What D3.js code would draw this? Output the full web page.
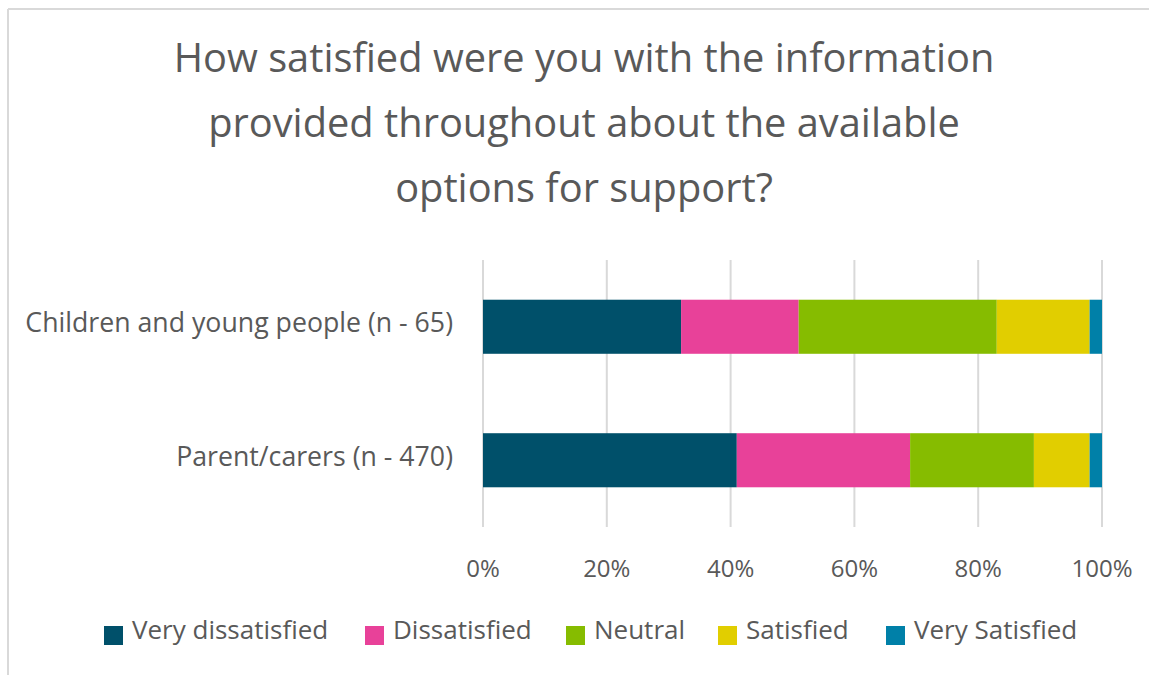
<!DOCTYPE html>
<html>
<head>
<meta charset="utf-8">
<script src="https://cdn.jsdelivr.net/npm/d3@7"></script>
<style>
  html, body { margin: 0; padding: 0; background: #fff; }
  svg { display: block; }
  text { font-family: "Open Sans", "DejaVu Sans", sans-serif; fill: #595959; }
</style>
</head>
<body>
<svg id="chart" width="1149" height="675"></svg>
<script>
// Survey responses, share of each group (percent)
const categories = ["Children and young people (n - 65)", "Parent/carers (n - 470)"];
const seriesNames = ["Very dissatisfied", "Dissatisfied", "Neutral", "Satisfied", "Very Satisfied"];
const childrenValues = [32, 19, 32, 15, 2];
const parentValues = [41, 28, 20, 9, 2];
const tickValues = [0, 20, 40, 60, 80, 100];
const tickLabels = ["0%", "20%", "40%", "60%", "80%", "100%"];
const titleLines = [
  "How satisfied were you with the information",
  "provided throughout about the available",
  "options for support?"
];
const colors = ["#00506A", "#E84199", "#86BC00", "#E1CE00", "#0080A8"];

const rows = categories.map((c, i) => {
  const vals = [childrenValues, parentValues][i];
  const o = { category: c };
  seriesNames.forEach((s, j) => { o[s] = vals[j]; });
  return o;
});
const stacked = d3.stack().keys(seriesNames)(rows);

const svg = d3.select("#chart");

// Frame (top and left edges visible)
svg.append("line").attr("x1", 8).attr("x2", 1149).attr("y1", 9).attr("y2", 9)
  .attr("stroke", "#d9d9d9").attr("stroke-width", 2);
svg.append("line").attr("x1", 8).attr("x2", 8).attr("y1", 9).attr("y2", 675)
  .attr("stroke", "#d9d9d9").attr("stroke-width", 2);

// Title
svg.append("g").selectAll("text").data(titleLines).join("text")
  .attr("x", 584).attr("y", (d, i) => 72 + i * 65)
  .attr("text-anchor", "middle")
  .style("font-size", "39.8px")
  .text(d => d);

const x = d3.scaleLinear().domain([0, 100]).range([483, 1102]);
const y = d3.scaleBand().domain(categories).range([260, 527])
  .paddingInner(0.595).paddingOuter(0.2975);

// Vertical gridlines
svg.append("g").selectAll("line").data(tickValues).join("line")
  .attr("x1", d => x(d)).attr("x2", d => x(d))
  .attr("y1", 260).attr("y2", 527)
  .attr("stroke", "#d9d9d9").attr("stroke-width", 2);

// Stacked bars
svg.append("g").selectAll("g").data(stacked).join("g")
  .attr("fill", (d, i) => colors[i])
  .selectAll("rect").data(d => d).join("rect")
  .attr("x", d => x(d[0]))
  .attr("width", d => x(d[1]) - x(d[0]))
  .attr("y", d => y(d.data.category))
  .attr("height", y.bandwidth());

// Category axis labels
svg.append("g").selectAll("text").data(categories).join("text")
  .attr("x", 453).attr("y", d => y(d) + y.bandwidth() / 2 - 4)
  .attr("dy", "0.35em")
  .attr("text-anchor", "end")
  .style("font-size", "26.7px")
  .text(d => d);

// Value axis labels
svg.append("g").selectAll("text").data(tickValues).join("text")
  .attr("x", d => x(d)).attr("y", 577)
  .attr("text-anchor", "middle")
  .style("font-size", "24px")
  .text((d, i) => tickLabels[i]);

// Legend
const legendX = [104, 365, 566, 718, 886];
const legend = svg.append("g").selectAll("g").data(seriesNames).join("g")
  .attr("transform", (d, i) => `translate(${legendX[i]},626)`);
legend.append("rect").attr("width", 19).attr("height", 19).attr("fill", (d, i) => colors[i]);
legend.append("text").attr("x", 28).attr("y", 13).style("font-size", "26px").text(d => d);
</script>
</body>
</html>
